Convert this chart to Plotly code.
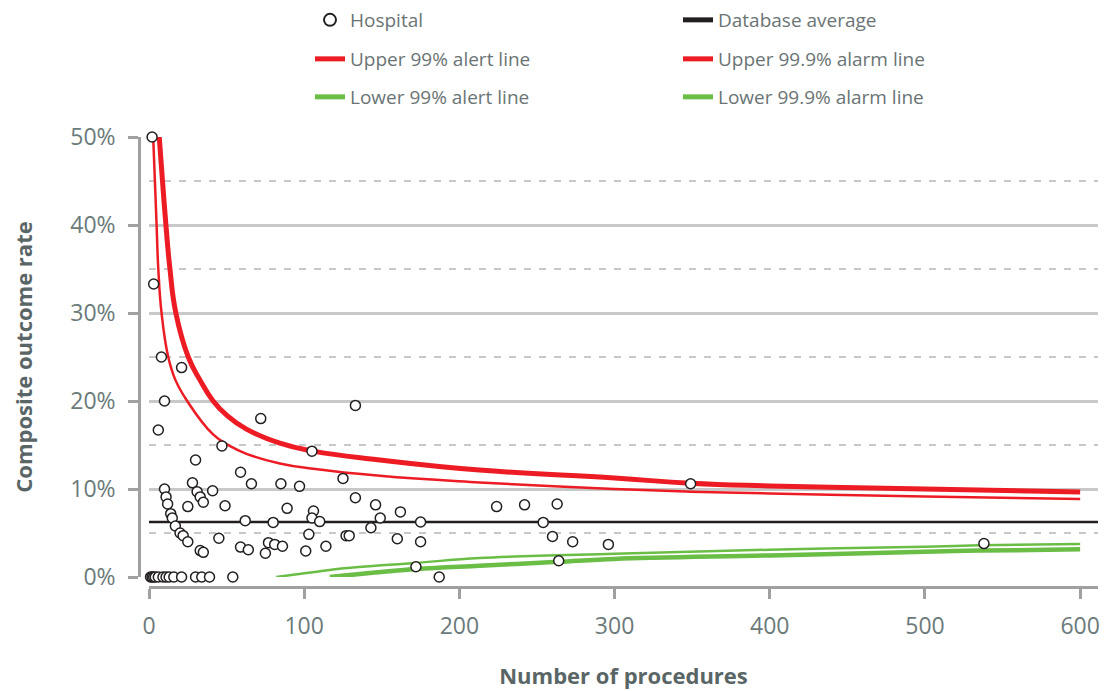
import plotly.graph_objects as go

# ---------------- data ----------------
# Hospitals: number of procedures and composite outcome rate (%)
HOSP_N = [1, 2, 3, 4, 6, 9, 11, 13, 16, 21, 30, 34, 39, 54,
          2, 3, 8, 21, 10, 6, 133, 72, 47, 105, 30, 59, 125, 66, 85, 97,
          10, 28, 11, 31, 41, 12, 33, 35, 25, 49, 89, 106, 14, 15, 17,
          62, 80, 105, 110, 20, 22, 25, 45, 103, 33, 35, 59, 64, 77, 81,
          86, 75, 101, 114, 133, 146, 149, 162, 175, 143, 127, 129, 160,
          175, 172, 187, 224, 242, 263, 254, 260, 273, 296, 264, 349, 538]
HOSP_RATE = [0, 0, 0, 0, 0, 0, 0, 0, 0, 0, 0, 0, 0, 0,
             50, 33.3, 25, 23.8, 20, 16.7, 19.5, 18.0, 14.9, 14.3, 13.3, 11.9,
             11.2, 10.6, 10.6, 10.3, 10.0, 10.7, 9.1, 9.7, 9.8, 8.3, 9.1, 8.5,
             8.0, 8.1, 7.8, 7.5, 7.2, 6.7, 5.8, 6.4, 6.2, 6.7, 6.3, 5.0, 4.7,
             4.0, 4.4, 4.85, 3.0, 2.8, 3.4, 3.1, 3.9, 3.7, 3.5, 2.7, 2.95, 3.5,
             9.0, 8.2, 6.7, 7.4, 6.25, 5.6, 4.7, 4.7, 4.35, 4.0, 1.17, 0,
             8.0, 8.2, 8.3, 6.2, 4.6, 4.0, 3.7, 1.85, 10.6, 3.8]

DB_AVERAGE = 6.25
X_MAX = 611.5

UPPER99_N = [2.7, 3.8, 4.9, 6.0, 8.1, 12.4, 17, 24.6, 41.3, 52, 62.8, 84.3,
             105.7, 148.7, 213, 300, 349, 400, 500, 600]
UPPER99_RATE = [50, 45, 40, 35, 30, 25, 22.4, 20, 16.2, 14.9, 14.0, 12.9,
                12.3, 11.5, 10.75, 10.0, 9.7, 9.5, 9.15, 8.86]

UPPER999_N = [6.6, 8.7, 10.9, 13.5, 17.3, 25.3, 32.8, 41.3, 50, 62.8, 84.3,
              105.7, 148.7, 213, 300, 349, 400, 500, 600]
UPPER999_RATE = [50, 45, 40, 35, 30, 25, 22.4, 20.0, 18.4, 16.8, 15.2,
                 14.3, 13.3, 12.15, 11.25, 10.65, 10.35, 10.0, 9.66]

LOWER99_N = [82, 101.5, 123, 172, 213, 300, 400, 500, 535, 600]
LOWER99_RATE = [0, 0.45, 0.94, 1.6, 2.16, 2.65, 3.1, 3.45, 3.6, 3.75]

LOWER999_N = [116.5, 172, 213, 264, 300, 400, 500, 535, 600]
LOWER999_RATE = [0, 0.9, 1.28, 1.72, 2.05, 2.45, 2.87, 3.0, 3.14]

X_TICKS = [0, 100, 200, 300, 400, 500, 600]
Y_TICKS = [0, 10, 20, 30, 40, 50]
Y_TICK_LABELS = ["0%", "10%", "20%", "30%", "40%", "50%"]
Y_MINOR = [5, 15, 25, 35, 45]

# ---------------- styles ----------------
RED = "#ED1C24"
GREEN = "#6ABD45"
BLACK = "#231F20"
GRID = "#C8C8C8"
AXIS = "#A0A0A0"
TICK_TXT = "#6B7A7A"
TITLE_TXT = "#5A6666"
FONT = "Open Sans"

W, H = 1107, 691
ML, MR, MT, MB = 129, 9, 137, 94
PW, PH = W - ML - MR, H - MT - MB


def px_x(px):
    return (px - ML) / PW


def px_y(py):
    return (H - MB - py) / PH


fig = go.Figure()

fig.add_trace(go.Scatter(
    x=LOWER99_N, y=LOWER99_RATE, mode="lines", name="Lower 99% alert line",
    line=dict(color=GREEN, width=2.5, shape="spline", smoothing=1.0),
    legend="legend3"))
fig.add_trace(go.Scatter(
    x=LOWER999_N, y=LOWER999_RATE, mode="lines", name="Lower 99.9% alarm line",
    line=dict(color=GREEN, width=4.5, shape="spline", smoothing=1.0),
    legend="legend6"))
fig.add_trace(go.Scatter(
    x=UPPER99_N, y=UPPER99_RATE, mode="lines", name="Upper 99% alert line",
    line=dict(color=RED, width=2.5, shape="spline", smoothing=1.3),
    legend="legend2"))
fig.add_trace(go.Scatter(
    x=UPPER999_N, y=UPPER999_RATE, mode="lines", name="Upper 99.9% alarm line",
    line=dict(color=RED, width=5, shape="spline", smoothing=1.3),
    legend="legend5"))
fig.add_trace(go.Scatter(
    x=[0, X_MAX], y=[DB_AVERAGE, DB_AVERAGE], mode="lines",
    name="Database average", line=dict(color=BLACK, width=2.5),
    legend="legend4"))
fig.add_trace(go.Scatter(
    x=HOSP_N, y=HOSP_RATE, mode="markers", name="Hospital",
    marker=dict(symbol="circle", size=10, color="white",
                line=dict(color=BLACK, width=1.5)),
    cliponaxis=False, legend="legend"))

leg_font = dict(family=FONT, size=19, color="#6A7474")
col1, col2 = px_x(310), px_x(678)
rows = [px_y(20), px_y(59), px_y(97)]


def leg(x, y):
    return dict(x=x, y=y, xanchor="left", yanchor="middle", font=leg_font,
                bgcolor="rgba(0,0,0,0)", borderwidth=0, itemwidth=30,
                itemsizing="constant")


fig.update_layout(
    width=W, height=H,
    margin=dict(l=ML, r=MR, t=MT, b=MB, autoexpand=False),
    paper_bgcolor="white", plot_bgcolor="white",
    font=dict(family=FONT, color=TICK_TXT),
    showlegend=True,
    legend=leg(col1, rows[0]),
    legend2=leg(col1, rows[1]),
    legend3=leg(col1, rows[2]),
    legend4=leg(col2, rows[0]),
    legend5=leg(col2, rows[1]),
    legend6=leg(col2, rows[2]),
    xaxis=dict(
        range=[0, X_MAX], domain=[px_x(149), 1], anchor="free",
        position=px_y(587), showgrid=False, zeroline=False,
        showline=True, linecolor=AXIS, linewidth=2.5,
        ticks="outside", ticklen=10, tickwidth=2.5, tickcolor=AXIS,
        tickvals=X_TICKS, ticklabelstandoff=8,
        tickfont=dict(family=FONT, size=23, color=TICK_TXT),
        minor=dict(tickvals=[0], showgrid=True, gridcolor=GRID, gridwidth=2,
                   ticks=""),
        title=dict(text="Number of procedures", standoff=28,
                   font=dict(family=FONT, size=22, color=TITLE_TXT,
                             weight="bold")),
        fixedrange=True,
    ),
    yaxis=dict(
        range=[0, 50], domain=[px_y(577), 1], anchor="free",
        position=px_x(139), showgrid=True, gridcolor=GRID, gridwidth=2.5,
        zeroline=False, showline=True, linecolor=AXIS, linewidth=2.5,
        ticks="outside", ticklen=10, tickwidth=2.5, tickcolor=AXIS,
        tickvals=Y_TICKS, ticktext=Y_TICK_LABELS, ticklabelstandoff=8,
        tickfont=dict(family=FONT, size=23, color=TICK_TXT),
        minor=dict(tickvals=Y_MINOR, showgrid=True, gridcolor=GRID,
                   gridwidth=2, griddash="7px,8px", ticks=""),
        title=dict(text="Composite outcome rate", standoff=30,
                   font=dict(family=FONT, size=22, color=TITLE_TXT,
                             weight="bold")),
        fixedrange=True,
    ),
)

fig.write_html("out.html")
